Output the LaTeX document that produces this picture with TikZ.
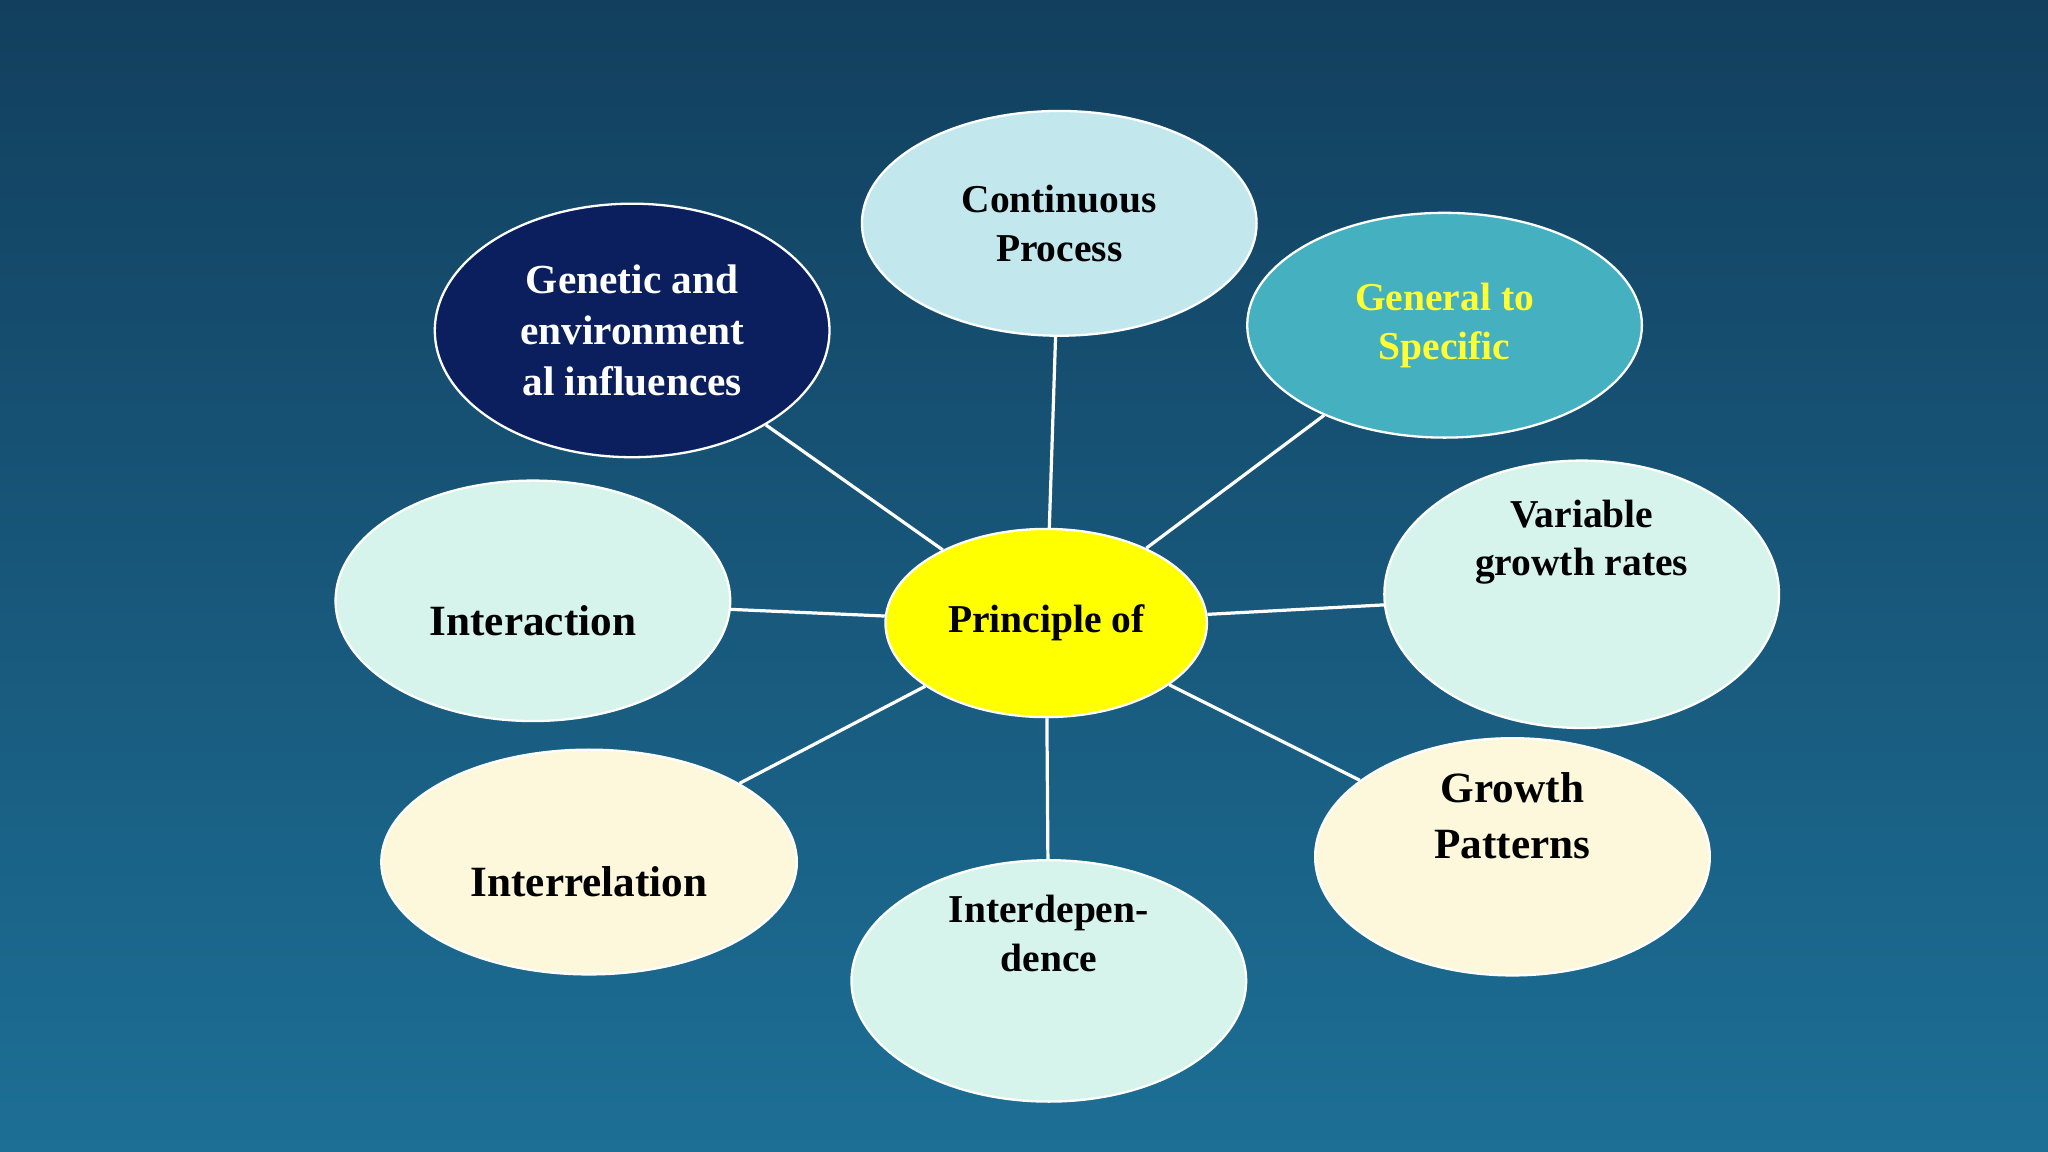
\documentclass[tikz,border=0pt]{standalone}
\usepackage{fontspec}
\setmainfont{Liberation Serif}
\usetikzlibrary{shapes.geometric}
\definecolor{bgtop}{HTML}{123F5E}
\definecolor{bgbot}{HTML}{1D6F96}
\definecolor{hub}{HTML}{FFFF00}
\definecolor{skyb}{HTML}{C2E8EE}
\definecolor{navy}{HTML}{0B1F5E}
\definecolor{teal}{HTML}{45B0C0}
\definecolor{mint}{HTML}{D6F4EC}
\definecolor{cream}{HTML}{FDF7DC}
\definecolor{lbly}{HTML}{FFFF33}
\tikzset{
  bubble/.style={ellipse, draw=white, line width=0.5pt, inner sep=0pt,
    align=center, font=\fontsize{8.6}{10.6}\selectfont\bfseries, text=black},
  spoke/.style={draw=white, line width=0.7pt}
}

\begin{document}
\begin{tikzpicture}[x=0.01cm,y=-0.01cm]
\shade[top color=bgtop, bottom color=bgbot] (0,0) rectangle (1568,882);
\useasboundingbox (0,0) rectangle (1568,882);

% hub
\node[bubble, fill=hub, minimum width=2.46cm, minimum height=1.44cm] (hub) at (801,477) {Principle of};

% outer ring
\node[bubble, fill=skyb, minimum width=3.02cm, minimum height=1.72cm] (cont) at (811,171) {Continuous\\Process};
\node[bubble, fill=navy, text=white, minimum width=3.02cm, minimum height=1.94cm,
  font=\fontsize{9}{11.2}\selectfont\bfseries] (gen) at (484,253) {Genetic and\\environment\\al influences};
\node[bubble, fill=teal, text=lbly, minimum width=3.02cm, minimum height=1.72cm] (spec) at (1106,249) {General to\\Specific};
\node[bubble, fill=mint, minimum width=3.02cm, minimum height=1.84cm,
  font=\fontsize{9.4}{11}\selectfont\bfseries] (inter) at (408,460) {\\[4pt]Interaction};
\node[bubble, fill=mint, minimum width=3.02cm, minimum height=1.92cm] (var) at (1211,455) {Variable\\growth rates\\[14pt]};
\node[bubble, fill=cream, minimum width=3.18cm, minimum height=1.72cm,
  font=\fontsize{9.4}{11}\selectfont\bfseries] (rel) at (451,660) {\\[4pt]Interrelation};
\node[bubble, fill=cream, minimum width=3.02cm, minimum height=1.72cm,
  font=\fontsize{9.4}{12}\selectfont\bfseries] (pat) at (1158,656) {Growth\\Patterns\\[6pt]};
\node[bubble, fill=mint, minimum width=3.02cm, minimum height=1.72cm] (dep) at (803,751) {Interdepen-\\dence\\[10pt]};

% spokes
\foreach \n in {cont,gen,spec,inter,var,rel,pat,dep}
  \draw[spoke] (hub) -- (\n);
\end{tikzpicture}
\end{document}
